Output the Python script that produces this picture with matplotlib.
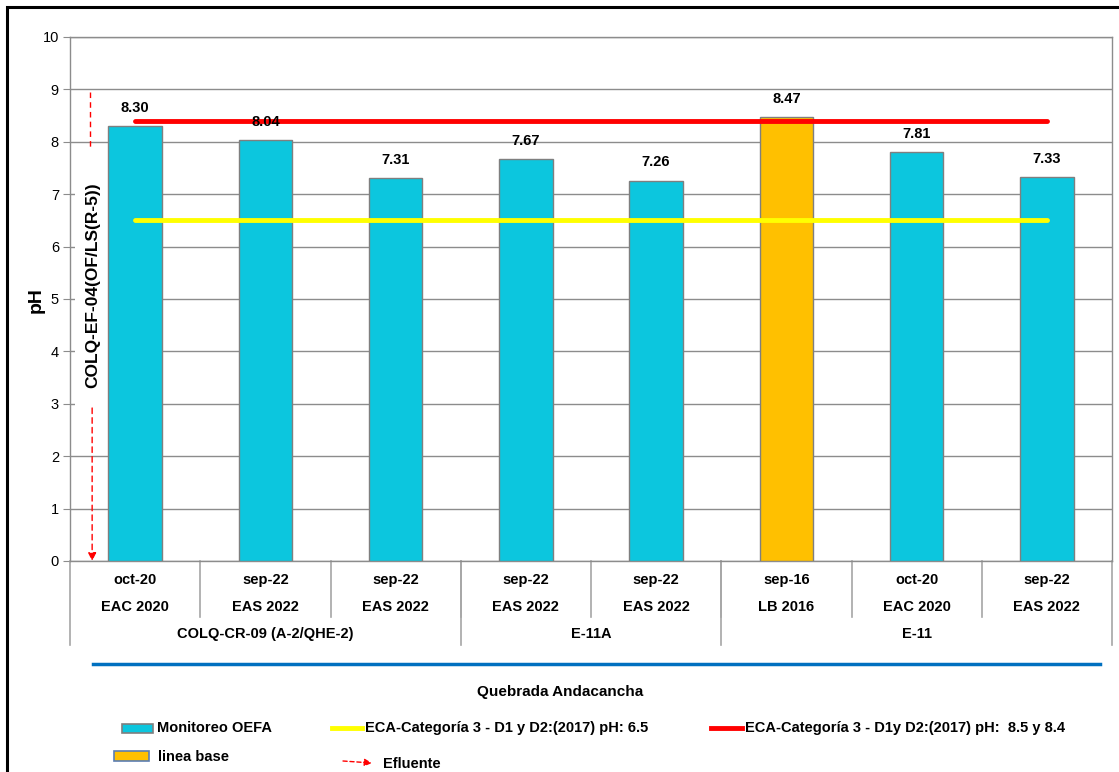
import matplotlib
matplotlib.use("Agg")
import matplotlib.pyplot as plt
from matplotlib.patches import Rectangle, FancyArrowPatch
from matplotlib.lines import Line2D
from matplotlib.transforms import blended_transform_factory

# --- data ---------------------------------------------------------------
dates = ["oct-20", "sep-22", "sep-22", "sep-22", "sep-22", "sep-16", "oct-20", "sep-22"]
sources = ["EAC 2020", "EAS 2022", "EAS 2022", "EAS 2022", "EAS 2022", "LB 2016", "EAC 2020", "EAS 2022"]
stations = ["COLQ-CR-09 (A-2/QHE-2)", "E-11A", "E-11"]
station_spans = [(0, 2), (3, 4), (5, 7)]
ph_values = [8.30, 8.04, 7.31, 7.67, 7.26, 8.47, 7.81, 7.33]
is_baseline = [False, False, False, False, False, True, False, False]
eca_min = 6.5
eca_max = 8.4
yticks = list(range(0, 11))

# --- style --------------------------------------------------------------
plt.rcParams["font.family"] = ["Liberation Sans", "DejaVu Sans"]

CYAN = "#0CC6DE"
ORANGE = "#FFC000"
EDGE = "#7F7F7F"
GRID = "#8C8C8C"

W, H = 1119, 772
fig = plt.figure(figsize=(W / 100, H / 100), dpi=100)


def fx(px):
    return px / W


def fy(py):
    return 1 - py / H


ax = fig.add_axes([fx(70), fy(561), fx(1112) - fx(70), fy(37) - fy(561)])
ax.set_axisbelow(True)
x = list(range(len(ph_values)))
colors = [ORANGE if b else CYAN for b in is_baseline]
ax.bar(x, ph_values, width=0.41, color=colors, edgecolor=EDGE, linewidth=1.0, zorder=3)
ax.set_xlim(-0.5, len(x) - 0.5)
ax.set_ylim(0, 10)
ax.set_yticks(yticks)
ax.set_yticklabels([str(t) for t in yticks], fontsize=10.5)
ax.yaxis.grid(True, color=GRID, linewidth=1.0)
ax.tick_params(axis="y", length=5, color=GRID, pad=3)
ax.tick_params(axis="x", length=0, labelbottom=False)
for s in ax.spines.values():
    s.set_color(GRID)
    s.set_linewidth(1.0)

# standard lines
ax.plot([0, len(x) - 1], [eca_max, eca_max], color="#FF0000", lw=3.5, zorder=4, solid_capstyle="round")
ax.plot([0, len(x) - 1], [eca_min, eca_min], color="#FFFF00", lw=3.5, zorder=4, solid_capstyle="round")

# value labels
for xi, v in zip(x, ph_values):
    ax.annotate(f"{v:.2f}", (xi, v), xytext=(0, 8), textcoords="offset points",
                ha="center", va="bottom", fontsize=10.5, fontweight="bold", zorder=5)

fig.text(fx(36), fy(300), "pH", rotation=90, ha="center", va="center",
         fontsize=14, fontweight="bold")

# effluent marker: white text box over the grid, dashed arrow down to the axis
ax.add_patch(Rectangle((-0.465, 2.95), 0.255, 5.0, facecolor="white", edgecolor="none", zorder=2))
ax.plot([-0.345, -0.345], [8.95, 7.9], color="#FF0000", lw=1, ls=(0, (4, 3)), clip_on=False, zorder=5)
ax.annotate("", xy=(-0.33, 0.0), xytext=(-0.33, 2.92),
            arrowprops=dict(arrowstyle="-|>", color="#FF0000", lw=1, ls=(0, (4, 3)),
                            mutation_scale=12, shrinkA=0, shrinkB=0), zorder=5)
ax.text(-0.325, 5.27, "COLQ-EF-04(OF/LS(R-5))", rotation=90, ha="center", va="center",
        rotation_mode="anchor", fontsize=12.5, fontweight="bold", zorder=5)

# category table below the axis
tb = blended_transform_factory(ax.transData, fig.transFigure)
for k in range(1, len(x)):
    ax.add_line(Line2D([k - 0.5, k - 0.5], [fy(561), fy(617)], transform=tb, color="#A6A6A6",
                       lw=1.2, clip_on=False))
for k in [-0.5, 2.5, 4.5, len(x) - 0.5]:
    ax.add_line(Line2D([k, k], [fy(561), fy(645)], transform=tb, color="#A6A6A6",
                       lw=1.2, clip_on=False))
for xi in x:
    ax.text(xi, fy(580), dates[xi], transform=tb, ha="center", va="center",
            fontsize=10.5, fontweight="bold")
    ax.text(xi, fy(607), sources[xi], transform=tb, ha="center", va="center",
            fontsize=10.5, fontweight="bold")
for name, (a, b) in zip(stations, station_spans):
    ax.text((a + b) / 2, fy(634), name, transform=tb, ha="center", va="center",
            fontsize=10.5, fontweight="bold")

# river line and name
fig.add_artist(Line2D([fx(93), fx(1100)], [fy(664), fy(664)], color="#0070C0", lw=2.5))
fig.text(fx(560), fy(692), "Quebrada Andacancha", ha="center", va="center",
         fontsize=11, fontweight="bold")

# legend
fig.add_artist(Rectangle((fx(122), fy(733)), fx(153) - fx(122), fy(724) - fy(733),
                         facecolor=CYAN, edgecolor=EDGE, lw=1.2))
fig.text(fx(157), fy(728), "Monitoreo OEFA", ha="left", va="center", fontsize=10.5, fontweight="bold")
fig.add_artist(Line2D([fx(332), fx(362)], [fy(728), fy(728)], color="#FFFF00", lw=3.5))
fig.text(fx(365), fy(728), "ECA-Categoría 3 - D1 y D2:(2017) pH: 6.5", ha="left", va="center",
         fontsize=10.5, fontweight="bold")
fig.add_artist(Line2D([fx(711), fx(742)], [fy(728), fy(728)], color="#FF0000", lw=3.5))
fig.text(fx(745), fy(728), "ECA-Categoría 3 - D1y D2:(2017) pH:  8.5 y 8.4", ha="left", va="center",
         fontsize=10.5, fontweight="bold")
fig.add_artist(Rectangle((fx(114), fy(761)), fx(149) - fx(114), fy(751) - fy(761),
                         facecolor=ORANGE, edgecolor="#5B7DB1", lw=1.2))
fig.text(fx(158), fy(757), "linea base", ha="left", va="center", fontsize=10.5, fontweight="bold")
fig.add_artist(FancyArrowPatch((fx(343), fy(761)), (fx(372), fy(763)), transform=fig.transFigure,
                               arrowstyle="-|>", color="#FF0000", lw=1, ls=(0, (3, 2)),
                               mutation_scale=11, shrinkA=0, shrinkB=0))
fig.text(fx(383), fy(764), "Efluente", ha="left", va="center", fontsize=10.5, fontweight="bold")

# outer frame
fig.add_artist(Rectangle((fx(7), fy(790)), fx(1140) - fx(7), fy(7) - fy(790),
                         facecolor="none", edgecolor="black", lw=2.2))

fig.savefig("out.png", dpi=100)
